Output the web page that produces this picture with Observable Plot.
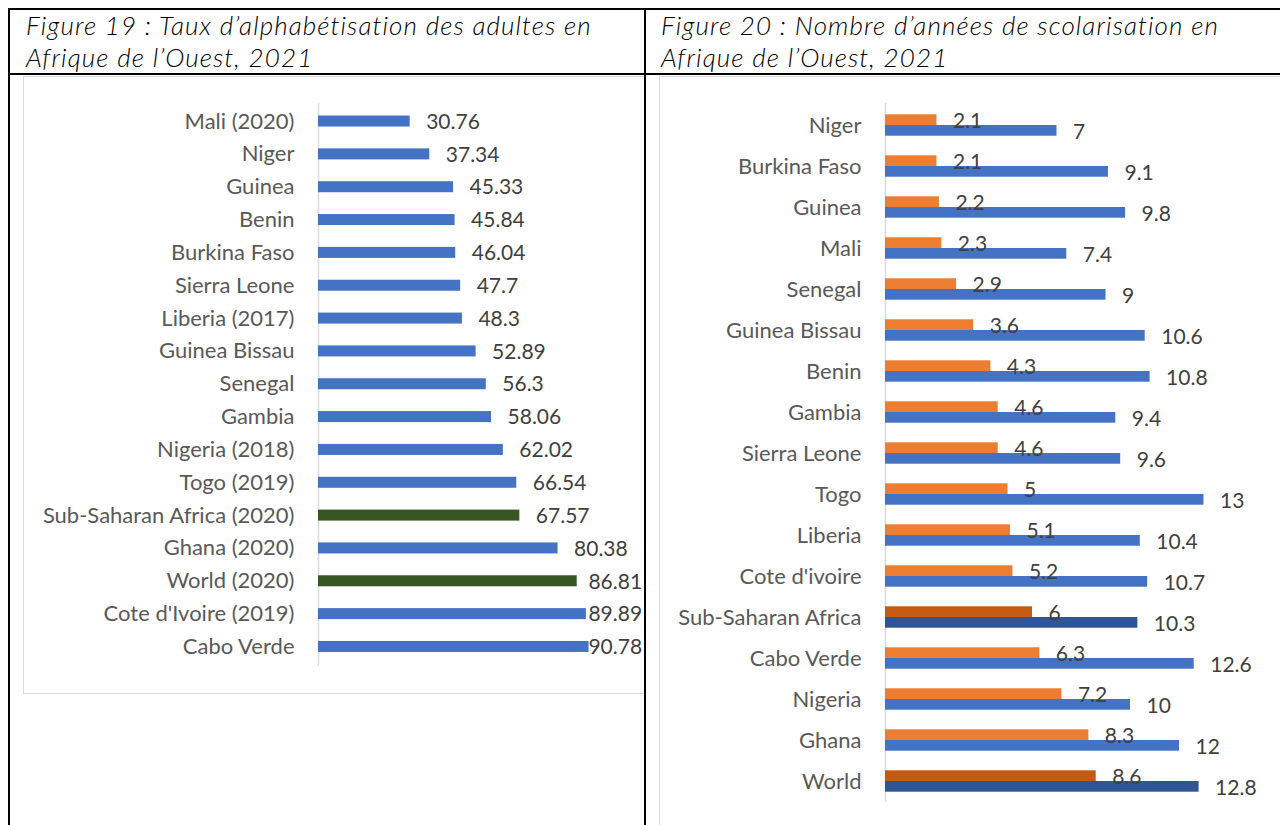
<!DOCTYPE html>
<html>
<head>
<meta charset="utf-8">
<script src="https://cdn.jsdelivr.net/npm/d3@7"></script>
<script src="https://cdn.jsdelivr.net/npm/@observablehq/plot@0.6"></script>
<style>
  html, body { margin: 0; padding: 0; background: #fff; }
  body { width: 1280px; height: 825px; position: relative; overflow: hidden; font-family: Lato, "Open Sans", sans-serif; }
  .line { position: absolute; background: #000; }
  .title { position: absolute; font-family: Lato, sans-serif; font-style: italic; font-weight: 300; font-size: 26px; letter-spacing: 1.1px; line-height: 32px; color: #000; white-space: nowrap; }
  .box { position: absolute; border: 1px solid #d9d9d9; box-sizing: border-box; background: #fff; }
  .chart { position: absolute; }
</style>
</head>
<body>
<div class="title" id="t1" style="left:26px; top:9px;">Figure 19 : Taux d’alphabétisation des adultes en<br>Afrique de l’Ouest, 2021</div>
<div class="title" id="t2" style="left:661px; top:9px;">Figure 20 : Nombre d’années de scolarisation en<br>Afrique de l’Ouest, 2021</div>
<div class="box" style="left:23px; top:76px; width:622px; height:618px;"></div>
<div class="box" style="left:659px; top:76px; width:640px; height:780px;"></div>
<div class="chart" id="c1" style="left:24px; top:77px;"></div>
<div class="chart" id="c2" style="left:660px; top:77px;"></div>
<div class="line" style="left:8px; top:8px; width:1272px; height:2px;"></div>
<div class="line" style="left:8px; top:8px; width:2px; height:817px;"></div>
<div class="line" style="left:644px; top:8px; width:2px; height:817px;"></div>
<div class="line" style="left:8px; top:73px; width:1272px; height:2px;"></div>
<script>
// ---- Figure 19 data: adult literacy rate (%) ----
const litCountries = ["Mali (2020)", "Niger", "Guinea", "Benin", "Burkina Faso", "Sierra Leone", "Liberia (2017)", "Guinea Bissau", "Senegal", "Gambia", "Nigeria (2018)", "Togo (2019)", "Sub-Saharan Africa (2020)", "Ghana (2020)", "World (2020)", "Cote d'Ivoire (2019)", "Cabo Verde"];
const litValues = [30.76, 37.34, 45.33, 45.84, 46.04, 47.7, 48.3, 52.89, 56.3, 58.06, 62.02, 66.54, 67.57, 80.38, 86.81, 89.89, 90.78];
const litHighlight = ["Sub-Saharan Africa (2020)", "World (2020)"];

// ---- Figure 20 data: years of schooling ----
const schCountries = ["Niger", "Burkina Faso", "Guinea", "Mali", "Senegal", "Guinea Bissau", "Benin", "Gambia", "Sierra Leone", "Togo", "Liberia", "Cote d'ivoire", "Sub-Saharan Africa", "Cabo Verde", "Nigeria", "Ghana", "World"];
const schMean = [2.1, 2.1, 2.2, 2.3, 2.9, 3.6, 4.3, 4.6, 4.6, 5, 5.1, 5.2, 6, 6.3, 7.2, 8.3, 8.6];      // orange series
const schExpected = [7, 9.1, 9.8, 7.4, 9, 10.6, 10.8, 9.4, 9.6, 13, 10.4, 10.7, 10.3, 12.6, 10, 12, 12.8]; // blue series
const schHighlight = ["Sub-Saharan Africa", "World"];

const FONT = "Lato, 'Open Sans', sans-serif";
const BLUE = "#4472C4", GREEN = "#375623";
const ORANGE = "#ED7D31", ORANGE_D = "#C55A11", BLUE_D = "#2F5597";

const lit = litCountries.map((c, i) => ({country: c, value: litValues[i]}));
const sch = schCountries.map((c, i) => ({country: c, mean: schMean[i], expected: schExpected[i]}));

const p1 = Plot.plot({
  width: 620, height: 616,
  marginLeft: 294, marginRight: 28, marginTop: 16.7, marginBottom: 19.2,
  style: {fontFamily: FONT, fontSize: "22px", color: "#595959", background: "transparent"},
  x: {domain: [0, 100], axis: null},
  y: {domain: litCountries, padding: 0.665, round: false},
  color: {type: "identity"},
  marks: [
    Plot.ruleX([0], {stroke: "#d9d9d9", strokeWidth: 1.5, insetTop: 9, insetBottom: 8}),
    Plot.barX(lit, {x: "value", y: "country", fill: d => litHighlight.includes(d.country) ? GREEN : BLUE}),
    Plot.text(lit, {x: d => Math.min(d.value, 85.2), y: "country", text: d => String(d.value), dx: 16, dy: 0.5, textAnchor: "start", fill: "#404040", fontSize: 21}),
    Plot.axisY({tickSize: 0, tickPadding: 24, label: null, fontSize: 22})
  ]
});
document.getElementById("c1").appendChild(p1);

const p2 = Plot.plot({
  width: 620, height: 748,
  marginLeft: 225, marginRight: 3, marginTop: 17.7, marginBottom: 13.7,
  style: {fontFamily: FONT, fontSize: "22px", color: "#595959", background: "transparent"},
  x: {domain: [0, 16], axis: null},
  y: {domain: schCountries, padding: 0.478, round: false},
  color: {type: "identity"},
  marks: [
    Plot.ruleX([0], {stroke: "#d9d9d9", strokeWidth: 1.5, insetTop: 8, insetBottom: 9}),
    Plot.barX(sch, {x: "mean", y: "country", insetBottom: 10.7, fill: d => schHighlight.includes(d.country) ? ORANGE_D : ORANGE}),
    Plot.barX(sch, {x: "expected", y: "country", insetTop: 10.7, fill: d => schHighlight.includes(d.country) ? BLUE_D : BLUE}),
    Plot.text(sch, {x: "mean", y: "country", text: d => String(d.mean), dx: 16, dy: -4.5, textAnchor: "start", fill: "#404040", fontSize: 21}),
    Plot.text(sch, {x: "expected", y: "country", text: d => String(d.expected), dx: 16, dy: 7, textAnchor: "start", fill: "#404040", fontSize: 21}),
    Plot.axisY({tickSize: 0, tickPadding: 24, label: null, fontSize: 22})
  ]
});
document.getElementById("c2").appendChild(p2);
</script>
</body>
</html>
